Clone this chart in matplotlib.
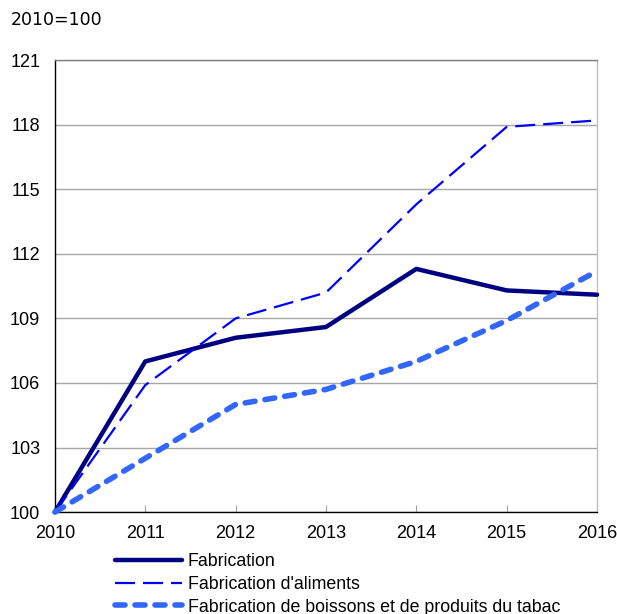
import matplotlib
matplotlib.use('Agg')
import matplotlib.pyplot as plt
from matplotlib.lines import Line2D

YEARS = [2010, 2011, 2012, 2013, 2014, 2015, 2016]
FABRICATION = [100.0, 107.0, 108.1, 108.6, 111.3, 110.3, 110.1]
ALIMENTS = [100.0, 105.9, 109.0, 110.2, 114.3, 117.9, 118.2]
BOISSONS = [100.0, 102.5, 105.0, 105.7, 107.0, 108.9, 111.2]
LABELS = ['Fabrication', "Fabrication d'aliments",
          'Fabrication de boissons et de produits du tabac']
Y_TICKS = [100, 103, 106, 109, 112, 115, 118, 121]

plt.rcParams['font.family'] = ['Liberation Sans', 'DejaVu Sans']

fig = plt.figure(figsize=(6.17, 6.14), dpi=100)
ax = fig.add_axes([0.089, 0.166, 0.8786, 0.736])

# one style per series: solid navy, thin blue dash, thick light-blue dots
styles = [
    dict(color='#000080', lw=3.2, ls='-', solid_capstyle='round'),
    dict(color='#0000FF', lw=1.6, ls=(0, (9, 3.6)), dash_capstyle='butt'),
    dict(color='#3366FF', lw=4.0, ls=(0, (1.8, 1.8)), dash_capstyle='round'),
]
for vals, st in zip([FABRICATION, ALIMENTS, BOISSONS], styles):
    ax.plot(YEARS, vals, **st, zorder=3, clip_on=False)

ax.set_xlim(YEARS[0], YEARS[-1])
ax.set_ylim(Y_TICKS[0], Y_TICKS[-1])
ax.set_xticks(YEARS)
ax.set_yticks(Y_TICKS)
ax.tick_params(axis='both', labelsize=13, colors='#000000')
ax.tick_params(axis='x', direction='in', length=5, color='#a0a0a0', pad=9)
ax.tick_params(axis='y', length=0, pad=10.5)
ax.yaxis.grid(True, color='#a6a6a6', lw=1)
ax.set_axisbelow(True)

ax.spines['left'].set_color('#000000')
ax.spines['bottom'].set_color('#000000')
ax.spines['top'].set_color('#808080')
ax.spines['right'].set_color('#c0c0c0')
for s in ax.spines.values():
    s.set_linewidth(1)

fig.text(11 / 617, 0.968, '2010=100', fontsize=12.5, family='DejaVu Sans', va='center')

handles = [Line2D([], [], **st) for st in styles]
fig.legend(handles, LABELS, loc='upper left', bbox_to_anchor=(0.186, 0.099),
           frameon=False, fontsize=12.75, handlelength=3.8, handletextpad=0.33,
           labelspacing=0.32, borderpad=0, borderaxespad=0)

fig.savefig('out.png', dpi=100)
